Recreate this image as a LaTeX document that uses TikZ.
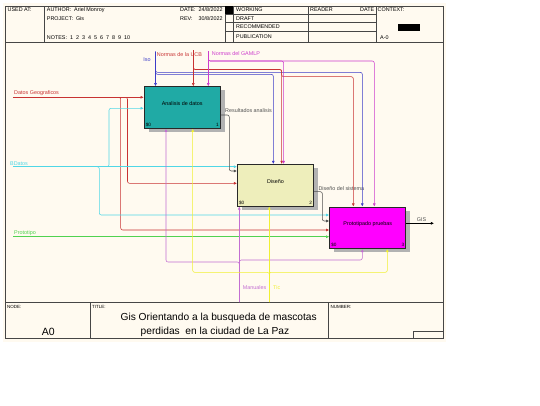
\documentclass[tikz,border=0pt]{standalone}
\usepackage{fontspec}
\setmainfont{Liberation Sans}
\usetikzlibrary{arrows.meta,shadows}
\definecolor{bg}{RGB}{255,250,240}
\definecolor{frm}{RGB}{70,70,70}
\definecolor{cTeal}{RGB}{32,170,165}
\definecolor{cPale}{RGB}{238,238,187}
\definecolor{cMagBox}{RGB}{255,0,255}
\definecolor{cRed}{RGB}{200,50,50}
\definecolor{cBlue}{RGB}{60,60,200}
\definecolor{cMag}{RGB}{205,60,205}
\definecolor{cOrc}{RGB}{195,110,210}
\definecolor{cYel}{RGB}{240,240,50}
\definecolor{cCyan}{RGB}{80,215,230}
\definecolor{cGreen}{RGB}{80,210,80}
\definecolor{cGray}{RGB}{80,80,80}
\definecolor{cShadow}{RGB}{178,178,178}
\begin{document}
\begin{tikzpicture}[x=1pt,y=-1pt,
  lbl/.style={font=\fontsize{5.4}{6.5}\selectfont, inner sep=0pt},
  tiny/.style={font=\fontsize{4.5}{5}\selectfont, inner sep=0pt, anchor=west},
  hd/.style={font=\fontsize{5.4}{6.5}\selectfont, inner sep=0pt, anchor=west},
  ln/.style={line width=0.55pt, rounded corners=2pt},
  arr/.style={-{Latex[length=3.2pt,width=3pt]}},
  frame/.style={draw=frm, line width=0.6pt},
  box/.style={draw={rgb,255:red,40;green,40;blue,40}, line width=1pt,
    minimum width=76pt, minimum height=41.5pt, inner sep=0pt,
    drop shadow={shadow xshift=4.5pt, shadow yshift=-3.5pt, opacity=1, fill=cShadow}},
  corner/.style={font=\fontsize{4.7}{5}\selectfont, inner sep=0pt}
]
\useasboundingbox (0,0) rectangle (540,405);
\fill[white] (0,0) rectangle (540,405);
\fill[bg] (3,3) rectangle (446,342);

% ---------- frame / header ----------
\draw[frame] (5,6) rectangle (443,338);
\draw[frame] (5,42.5) -- (443,42.5);
\draw[frame] (44,6) -- (44,42.5);
\draw[frame] (225,6) -- (225,42.5);
\draw[frame] (233.3,6) -- (233.3,42.5);
\draw[frame] (308.3,6) -- (308.3,42.5);
\draw[frame] (376,6) -- (376,42.5);
\draw[frame] (225,14.3) -- (376,14.3);
\draw[frame] (225,22.5) -- (376,22.5);
\draw[frame] (225,31) -- (376,31);
\fill[black] (225,6) rectangle (233.3,14.3);
\fill[black] (397.7,24) rectangle (420,30.7);

\node[hd] (usedat) at (7.5,10) {USED AT:};
\node[hd] (author) at (46.7,10) {AUTHOR:\ \ Ariel Monroy};
\node[hd] (project) at (46.7,18.3) {PROJECT:\ \ Gis};
\node[hd] (notes) at (46.7,37.7) {NOTES:\ \ 1\ \ 2\ \ 3\ \ 4\ \ 5\ \ 6\ \ 7\ \ 8\ \ 9\ \ 10};
\node[hd] (date) at (180,10) {DATE:\ \ 24/8/2022};
\node[hd] (rev) at (180,18.3) {REV:\ \ \ \ 30/8/2022};
\node[hd] (working) at (236,10) {WORKING};
\node[hd] (draft) at (236,18.6) {DRAFT};
\node[hd] (recom) at (236,27) {RECOMMENDED};
\node[hd] (public) at (236,36.7) {PUBLICATION};
\node[hd] (reader) at (310,10) {READER};
\node[hd] (rdate) at (360,10) {DATE};
\node[hd] (context) at (377.5,10) {CONTEXT:};
\node[hd] (azero) at (380,37.7) {A-0};

% ---------- footer ----------
\draw[frame] (5,302.5) -- (443,302.5);
\draw[frame] (90,302.5) -- (90,338);
\draw[frame] (328.3,302.5) -- (328.3,338);
\draw[frame] (413,331) rectangle (443,338);
\node[tiny] (nodelbl) at (7,306.5) {NODE:};
\node[tiny] (titlelbl) at (92,306.5) {TITLE:};
\node[tiny] (numlbl) at (330.5,306.5) {NUMBER:};
\node[font=\fontsize{10.5}{12}\selectfont, inner sep=0pt] (nodeval) at (48.3,331.7) {A0};
\node[font=\fontsize{10.2}{12}\selectfont, inner sep=0pt] (title1) at (218.7,318) {Gis Orientando a la busqueda de mascotas};
\node[font=\fontsize{10.2}{12}\selectfont, inner sep=0pt] (title2) at (215,331.7) {perdidas\ \ en la ciudad de La Paz};

% ---------- boxes ----------
\node[box, fill=cTeal] (a1) at (182.25,107.5) {};
\node[box, fill=cPale] (a2) at (275.5,185.25) {};
\node[box, fill=cMagBox] (a3) at (367.75,227.75) {};
\node[lbl] (a1t) at (182.25,104) {Analisis de datos};
\node[lbl] (a2t) at (275.5,182) {Diseño};
\node[lbl] (a3t) at (367.75,224) {Prototipado pruebas};
\node[corner, anchor=south west] (a1c) at ([xshift=1.8pt,yshift=1.8pt]a1.south west) {\$0};
\node[corner, anchor=south east] (a1n) at ([xshift=-1.8pt,yshift=1.8pt]a1.south east) {1};
\node[corner, anchor=south west] (a2c) at ([xshift=1.8pt,yshift=1.8pt]a2.south west) {\$0};
\node[corner, anchor=south east] (a2n) at ([xshift=-1.8pt,yshift=1.8pt]a2.south east) {2};
\node[corner, anchor=south west] (a3c) at ([xshift=1.8pt,yshift=1.8pt]a3.south west) {\$0};
\node[corner, anchor=south east] (a3n) at ([xshift=-1.8pt,yshift=1.8pt]a3.south east) {3};

% ---------- end points ----------
\coordinate (dgS) at (13,97.3);
\coordinate (bdS) at (13,166.7);
\coordinate (prS) at (13,236.7);
\coordinate (isoS) at (155.5,51.5);
\coordinate (ucS) at (193.3,50);
\coordinate (gmS) at (208.3,51);
\coordinate (maS) at (239.3,302);
\coordinate (tcS) at (269.3,302);
\coordinate (gisE) at (434,223.3);

% ---------- labels ----------
\node[lbl, text=cRed, anchor=west] (dgL) at (14,93.3) {Datos Geograficos};
\node[lbl, text=cCyan, anchor=west] (bdL) at (10,163.3) {BDatos};
\node[lbl, text=cGreen, anchor=west] (prL) at (14,233) {Prototipo};
\node[lbl, text=cBlue] (isoL) at (147,59.3) {Iso};
\node[lbl, text=cRed, anchor=west] (ucL) at (156.7,55) {Normas de la UCB};
\node[lbl, text=cMag, anchor=west] (gmL) at (211.7,53.3) {Normas del GAMLP};
\node[lbl, text=cOrc, anchor=west] (maL) at (242.7,287.7) {Manuales};
\node[lbl, text=cYel, anchor=west] (tcL) at (273,287.7) {Tic};
\node[lbl, text=cGray, anchor=west] (raL) at (225,110.7) {Resultados analisis};
\node[lbl, text=cGray, anchor=west] (dsL) at (318.3,189) {Diseño del sistema};
\node[lbl, text=cGray] (gisL) at (421.5,220) {GIS};

% ---------- inputs ----------
\draw[ln,arr,cRed] (dgS) -- (a1.west |- dgS);
\draw[ln,arr,cRed] (dgS) -| (127.5,183.3) -- (a2.west |- 0,183.3);
\draw[ln,arr,cRed] (dgS) -| (120.7,230) -- (a3.west |- 0,230);
\draw[ln,arr,cCyan] (bdS) -- (a2.west |- bdS);
\draw[ln,arr,cCyan] (bdS) -| (109,108.3) -- (a1.west |- 0,108.3);
\draw[ln,arr,cCyan] (bdS) -| (99.3,215) -- (a3.west |- 0,215);
\draw[ln,arr,cGreen] (prS) -- (a3.west |- prS);

% ---------- controls ----------
\draw[ln,arr,cBlue] (isoS) -- (isoS |- a1.north);
\draw[ln,arr,cBlue] (isoS) |- (273.3,74.3) -- (a2.north -| 273.3,0);
\draw[ln,arr,cBlue] (isoS) |- (362.3,72.3) -- (a3.north -| 362.3,0);
\draw[ln,arr,cRed] (ucS) -- (ucS |- a1.north);
\draw[ln,arr,cRed] (ucS) |- (281.7,69.5) -- (a2.north -| 281.7,0);
\draw[ln,arr,cRed] (ucS) |- (281.7,69.5) |- (353.3,76.7) -- (a3.north -| 353.3,0);
\draw[ln,arr,cMag] (gmS) -- (gmS |- a1.north);
\draw[ln,arr,cMag] (gmS) |- (283.6,61) -- (a2.north -| 283.6,0);
\draw[ln,arr,cMag] (gmS) |- (374.3,61) -- (a3.north -| 374.3,0);

% ---------- mechanisms ----------
\draw[ln,arr,cOrc] (maS) -- (maS |- a2.south);
\draw[ln,arr,cOrc] (maS) |- (166,262) -- (a1.south -| 166,0);
\draw[ln,arr,cOrc] (maS) |- (362.3,260) -- (a3.south -| 362.3,0);
\draw[ln,arr,cYel] (tcS) -- (tcS |- a2.south);
\draw[ln,arr,cYel] (tcS) |- (192.7,272.3) -- (a1.south -| 192.7,0);
\draw[ln,arr,cYel] (tcS) |- (387.3,272.3) -- (a3.south -| 387.3,0);

% ---------- outputs ----------
\draw[ln,arr,cGray] (a1.east |- 0,115) -| (229.3,171) -- (a2.west |- 0,171);
\draw[ln,arr,cGray] (a2.east |- 0,191.7) -| (322.3,221) -- (a3.west |- 0,221);
\draw[ln,arr,black] (a3.east |- 0,223.3) -- (gisE);
\end{tikzpicture}
\end{document}
